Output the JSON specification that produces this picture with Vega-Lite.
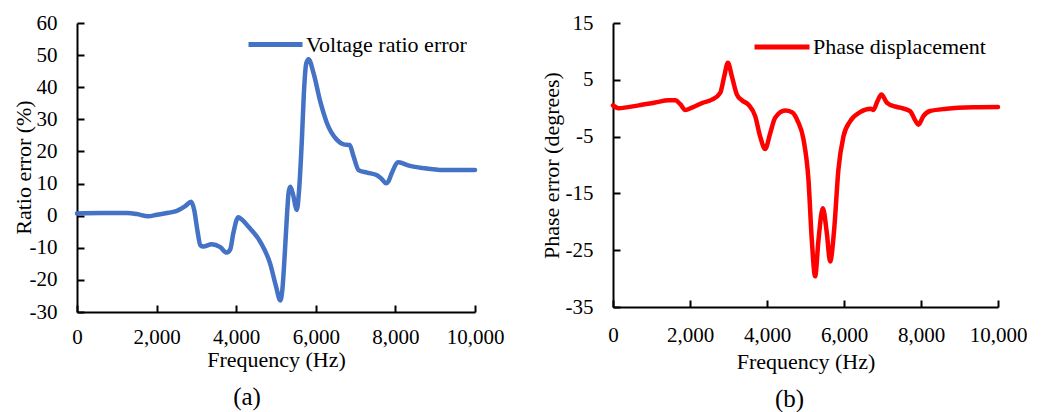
{
  "$schema": "https://vega.github.io/schema/vega-lite/v6.json",
  "background": "white",
  "padding": {"left": 12, "top": 12, "right": 5, "bottom": 0},
  "spacing": 36,
  "config": {
    "view": {"stroke": null},
    "font": "Liberation Serif",
    "axis": {
      "domainColor": "black", "domainWidth": 2, "tickColor": "black", "tickWidth": 2,
      "tickSize": -7, "grid": false, "labelFont": "Liberation Serif", "labelFontSize": 21,
      "labelColor": "black", "titleFont": "Liberation Serif", "titleFontSize": 22,
      "titleColor": "black", "titleFontWeight": "normal", "labelFlush": false, "labelOverlap": false,
      "labelExpr": "replace(datum.label, '\u2212', '-')"
    },
    "legend": {"labelFont": "Liberation Serif", "labelFontSize": 22, "labelColor": "black", "padding": 0, "labelLimit": 0},
    "title": {"font": "Liberation Serif", "fontSize": 25, "fontWeight": "normal", "color": "black"}
  },
  "resolve": {"scale": {"color": "independent"}, "legend": {"color": "independent"}},
  "datasets": {
    "a": [
      {"f":0,"v":0.7},{"f":600,"v":0.8},{"f":1250,"v":0.8},{"f":1500,"v":0.5},{"f":1790,"v":-0.2},{"f":2008,"v":0.3},{"f":2300,"v":0.9},{"f":2510,"v":1.5},{"f":2720,"v":3.0},{"f":2870,"v":4.3},{"f":2946,"v":1.7},{"f":3030,"v":-5},{"f":3100,"v":-9.2},{"f":3174,"v":-9.6},{"f":3384,"v":-8.9},{"f":3600,"v":-9.8},{"f":3761,"v":-11.5},{"f":3850,"v":-10.5},{"f":3927,"v":-5.5},{"f":4053,"v":-0.5},{"f":4142,"v":-1.2},{"f":4304,"v":-3.4},{"f":4598,"v":-8.0},{"f":4849,"v":-14.8},{"f":5000,"v":-22},{"f":5108,"v":-26.4},{"f":5160,"v":-23},{"f":5220,"v":-12},{"f":5280,"v":1},{"f":5320,"v":7.5},{"f":5359,"v":9.0},{"f":5420,"v":7},{"f":5524,"v":1.8},{"f":5580,"v":8},{"f":5650,"v":23.6},{"f":5700,"v":38},{"f":5760,"v":47.4},{"f":5819,"v":48.7},{"f":5945,"v":44.3},{"f":6113,"v":35.5},{"f":6281,"v":28.8},{"f":6532,"v":23.6},{"f":6700,"v":22.2},{"f":6850,"v":22.0},{"f":6950,"v":18.4},{"f":7075,"v":14.2},{"f":7286,"v":13.4},{"f":7538,"v":12.6},{"f":7650,"v":11.5},{"f":7764,"v":10.1},{"f":7830,"v":10.8},{"f":7907,"v":13.2},{"f":8073,"v":16.6},{"f":8367,"v":15.5},{"f":8702,"v":14.8},{"f":9204,"v":14.2},{"f":10000,"v":14.2}
    ],
    "b": [
      {"f":0,"v":0.5},{"f":145,"v":0.0},{"f":665,"v":0.5},{"f":1098,"v":1.0},{"f":1444,"v":1.4},{"f":1617,"v":1.4},{"f":1747,"v":0.7},{"f":1877,"v":-0.3},{"f":2050,"v":0.1},{"f":2310,"v":0.9},{"f":2569,"v":1.5},{"f":2785,"v":2.7},{"f":2889,"v":5.6},{"f":2984,"v":8.0},{"f":3088,"v":5.6},{"f":3218,"v":2.4},{"f":3348,"v":1.4},{"f":3520,"v":0.6},{"f":3693,"v":-1.4},{"f":3823,"v":-5.0},{"f":3953,"v":-7.2},{"f":4083,"v":-4.4},{"f":4212,"v":-1.7},{"f":4472,"v":-0.4},{"f":4650,"v":-0.7},{"f":4800,"v":-2.3},{"f":4948,"v":-5.5},{"f":5077,"v":-12.6},{"f":5164,"v":-23.2},{"f":5250,"v":-29.6},{"f":5337,"v":-23.2},{"f":5450,"v":-17.6},{"f":5554,"v":-22.0},{"f":5640,"v":-27.0},{"f":5744,"v":-21.4},{"f":5855,"v":-10.8},{"f":5985,"v":-5.0},{"f":6159,"v":-2.3},{"f":6418,"v":-0.7},{"f":6696,"v":-0.1},{"f":6764,"v":-0.3},{"f":6867,"v":1.2},{"f":6970,"v":2.4},{"f":7111,"v":1.0},{"f":7327,"v":0.3},{"f":7456,"v":0.1},{"f":7716,"v":-0.5},{"f":7846,"v":-2.1},{"f":7932,"v":-2.9},{"f":8061,"v":-1.4},{"f":8235,"v":-0.5},{"f":8668,"v":-0.1},{"f":9359,"v":0.15},{"f":10000,"v":0.2}
    ]
  },
  "hconcat": [
    {
      "width": 398, "height": 289,
      "data": {"name": "a"},
      "title": {"text": "(a)", "orient": "bottom", "anchor": "middle", "dx": -29, "offset": 15},
      "mark": {"type": "line", "strokeWidth": 4.5, "interpolate": "monotone", "strokeCap": "round"},
      "encoding": {
        "x": {"field": "f", "type": "quantitative", "scale": {"domain": [0, 10000], "nice": false},
          "axis": {"values": [0, 2000, 4000, 6000, 8000, 10000], "format": ",d", "title": "Frequency (Hz)", "labelPadding": 21, "titleBaseline": "alphabetic", "titleY": 54}},
        "y": {"field": "v", "type": "quantitative", "scale": {"domain": [-30, 60], "nice": false},
          "axis": {"values": [-30, -20, -10, 0, 10, 20, 30, 40, 50, 60], "title": "Ratio error (%)", "labelPadding": 27, "titleBaseline": "middle", "titleX": -54, "titleY": 144}},
        "color": {"datum": "Voltage ratio error", "type": "nominal",
          "scale": {"domain": ["Voltage ratio error"], "range": ["#4472C4"]},
          "legend": {"title": null, "orient": "none", "legendX": 169, "legendY": -8, "symbolType": "stroke", "symbolSize": 2916, "symbolStrokeWidth": 5, "labelOffset": 1}}
      }
    },
    {
      "width": 385, "height": 284,
      "data": {"name": "b"},
      "title": {"text": "(b)", "orient": "bottom", "anchor": "middle", "dx": -16, "offset": 15},
      "mark": {"type": "line", "strokeWidth": 4.5, "interpolate": "monotone", "strokeCap": "round"},
      "encoding": {
        "x": {"field": "f", "type": "quantitative", "scale": {"domain": [0, 10000], "nice": false},
          "axis": {"values": [0, 2000, 4000, 6000, 8000, 10000], "format": ",d", "title": "Frequency (Hz)", "labelPadding": 24, "titleBaseline": "alphabetic", "titleY": 61}},
        "y": {"field": "v", "type": "quantitative", "scale": {"domain": [-35, 15], "nice": false},
          "axis": {"values": [-35, -25, -15, -5, 5, 15], "title": "Phase error (degrees)", "labelPadding": 27, "titleBaseline": "middle", "titleX": -62, "titleY": 142}},
        "color": {"datum": "Phase displacement", "type": "nominal",
          "scale": {"domain": ["Phase displacement"], "range": ["#FF0000"]},
          "legend": {"title": null, "orient": "none", "legendX": 139, "legendY": -6, "symbolType": "stroke", "symbolSize": 3025, "symbolStrokeWidth": 5, "labelOffset": 1}}
      }
    }
  ]
}
